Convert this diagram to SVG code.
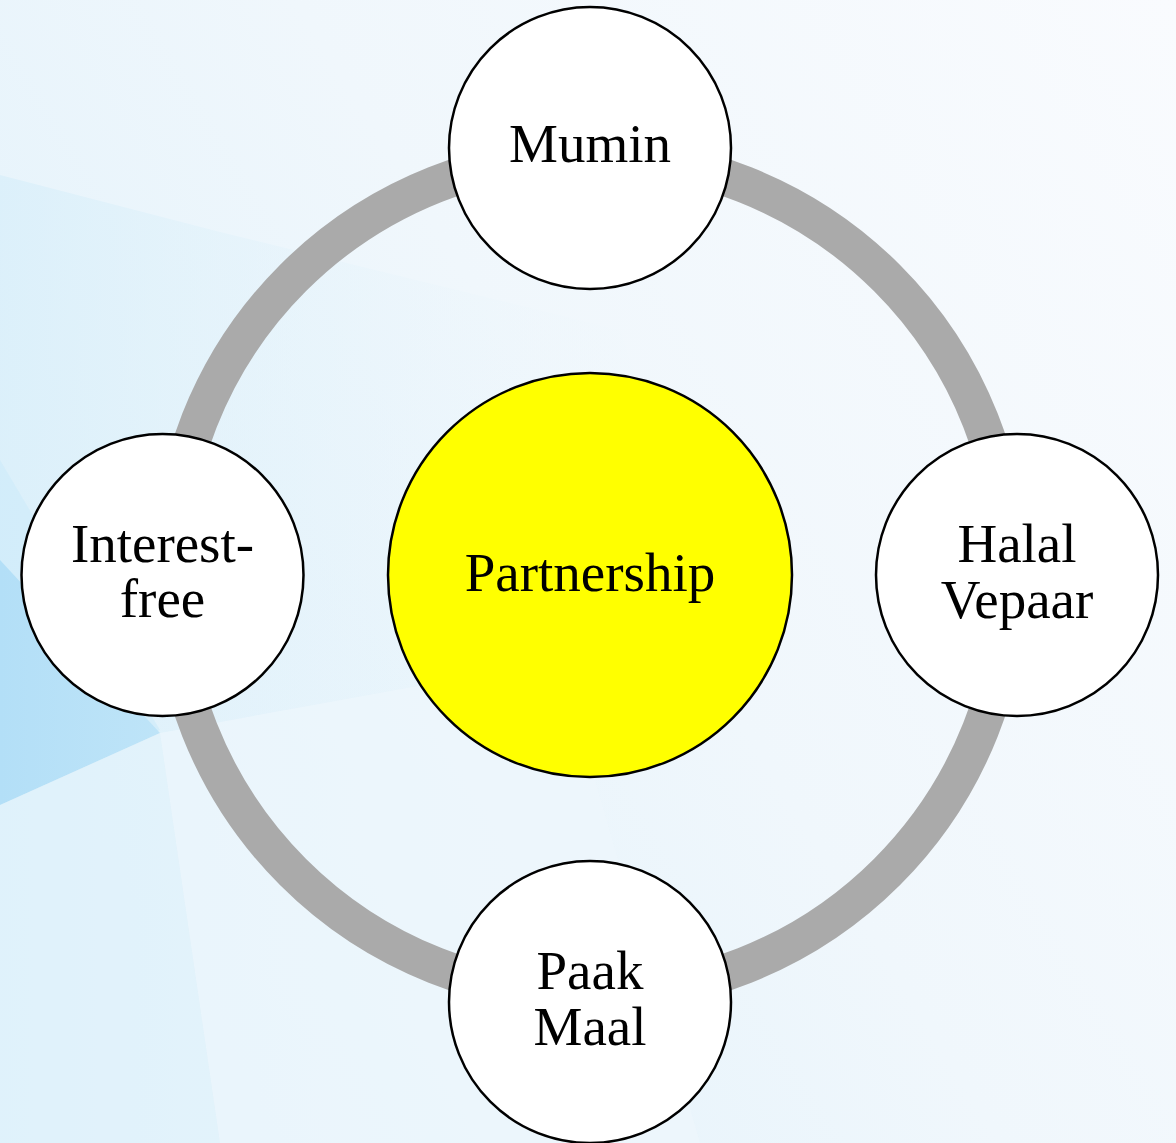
<svg xmlns="http://www.w3.org/2000/svg" width="1176" height="1143" viewBox="0 0 1176 1143">
<defs>
<linearGradient id="bg" x1="1" y1="0" x2="0" y2="0.6">
<stop offset="0" stop-color="#f9fbfe"/>
<stop offset="0.55" stop-color="#f0f7fc"/>
<stop offset="1" stop-color="#e2f2fb"/>
</linearGradient>
<linearGradient id="wedge" x1="0" y1="0" x2="1" y2="0">
<stop offset="0" stop-color="#d9effa" stop-opacity="0.8"/>
<stop offset="0.6" stop-color="#e6f4fb" stop-opacity="0.3"/>
<stop offset="1" stop-color="#eef7fc" stop-opacity="0"/>
</linearGradient>
<linearGradient id="dark" x1="0" y1="0" x2="1" y2="0">
<stop offset="0" stop-color="#b3dff7"/>
<stop offset="1" stop-color="#bee4f8"/>
</linearGradient>
<style>
.node{fill:#ffffff;stroke:#000000;stroke-width:2.5}
.center{fill:#ffff00;stroke:#000000;stroke-width:2.5}
.lbl{font-family:"Liberation Serif","Times New Roman",serif;font-size:55px;fill:#000000;text-anchor:middle}
.ring{fill:none;stroke:#aaaaaa;stroke-width:37}
</style>
</defs>
<g id="background">
<rect x="0" y="0" width="1176" height="1143" fill="url(#bg)"/>
<polygon points="0,175 220,232 620,330 700,560 560,1000 420,1143 0,1143" fill="url(#wedge)"/>
<polygon points="0,460 160,730 0,805" fill="#cfebf9" opacity="0.7"/>
<polygon points="0,560 160,733 0,805" fill="url(#dark)"/>
<polygon points="0,805 160,733 220,1143 0,1143" fill="#e4f3fb" opacity="0.5"/>
<polygon points="160,733 560,660 700,1143 220,1143" fill="#eef7fc" opacity="0.7"/>
</g>
<g id="connectors">
<circle class="ring" cx="590" cy="575" r="420"/>
</g>
<g id="node-partnership">
<circle class="center" cx="590" cy="575" r="202"/>
<text class="lbl" x="590" y="591">Partnership</text>
</g>
<g id="node-mumin">
<circle class="node" cx="590" cy="148" r="141"/>
<text class="lbl" x="590" y="162">Mumin</text>
</g>
<g id="node-halal-vepaar">
<circle class="node" cx="1017" cy="575" r="141"/>
<text class="lbl" x="1017" y="562">Halal</text>
<text class="lbl" x="1017" y="618">Vepaar</text>
</g>
<g id="node-paak-maal">
<circle class="node" cx="590" cy="1002" r="141"/>
<text class="lbl" x="590" y="989">Paak</text>
<text class="lbl" x="590" y="1045">Maal</text>
</g>
<g id="node-interest-free">
<circle class="node" cx="162.5" cy="575" r="141"/>
<text class="lbl" x="162.5" y="562">Interest-</text>
<text class="lbl" x="162.5" y="617">free</text>
</g>
</svg>
